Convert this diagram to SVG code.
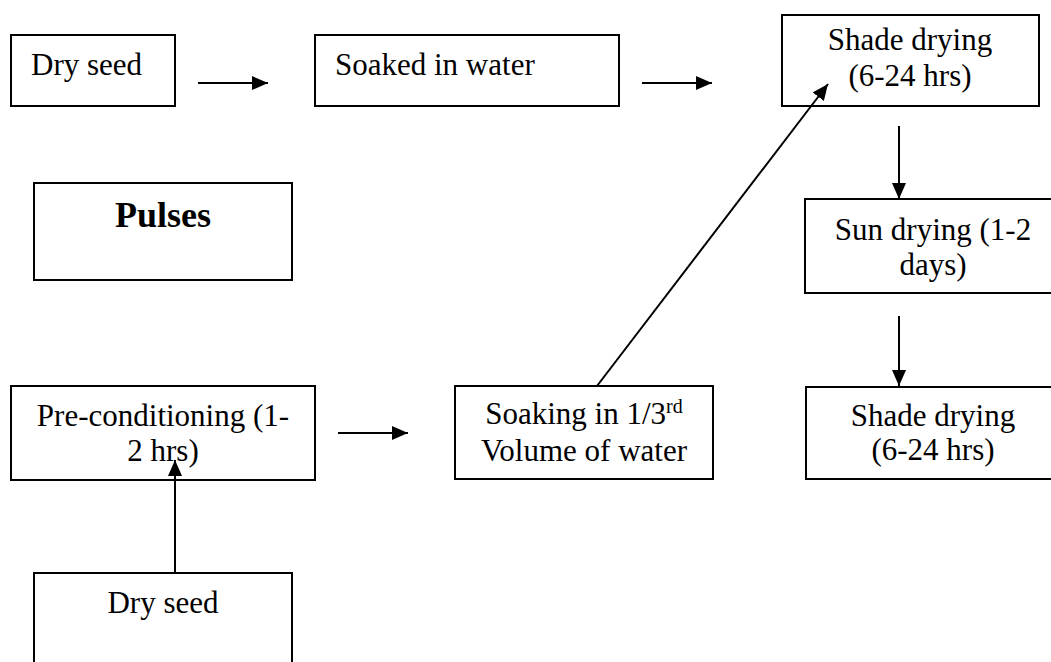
<svg xmlns="http://www.w3.org/2000/svg" width="1051" height="662" viewBox="0 0 1051 662">
  <style>
    .box { fill: #ffffff; stroke: #000000; stroke-width: 2; }
    .lbl { font-family: "Liberation Serif", "Times New Roman", serif; font-size: 31px; fill: #000000; }
    .mid { text-anchor: middle; }
    .title { font-weight: bold; font-size: 36px; }
    .sup { font-size: 20px; }
    .edge { stroke: #000000; stroke-width: 2; fill: none; marker-end: url(#head); }
  </style>
  <defs>
    <marker id="head" markerUnits="userSpaceOnUse" markerWidth="16" markerHeight="14" refX="16" refY="7" orient="auto">
      <path d="M0,0 L16,7 L0,14 z" fill="#000000"/>
    </marker>
  </defs>
  <rect width="1051" height="662" fill="#ffffff"/>

  <!-- top row -->
  <g id="dry-seed-top">
    <rect class="box" x="11" y="35" width="164" height="71"/>
    <text class="lbl" x="31" y="75">Dry seed</text>
  </g>
  <g id="soaked-in-water">
    <rect class="box" x="315" y="35" width="304" height="71"/>
    <text class="lbl" x="335" y="75">Soaked in water</text>
  </g>
  <g id="shade-drying-top">
    <rect class="box" x="782" y="15" width="257" height="91"/>
    <text class="lbl mid" x="910" y="50">Shade drying</text>
    <text class="lbl mid" x="910" y="86">(6-24 hrs)</text>
  </g>

  <!-- heading -->
  <g id="pulses">
    <rect class="box" x="34" y="183" width="258" height="97"/>
    <text class="lbl mid title" x="163" y="227">Pulses</text>
  </g>

  <g id="sun-drying">
    <rect class="box" x="805" y="199" width="256" height="94"/>
    <text class="lbl mid" x="933" y="240">Sun drying (1-2</text>
    <text class="lbl mid" x="933" y="275">days)</text>
  </g>

  <!-- lower row -->
  <g id="pre-conditioning">
    <rect class="box" x="11" y="386" width="304" height="94"/>
    <text class="lbl mid" x="163" y="426">Pre-conditioning (1-</text>
    <text class="lbl mid" x="163" y="461">2 hrs)</text>
  </g>
  <g id="soaking-third">
    <rect class="box" x="455" y="386" width="258" height="93"/>
    <text class="lbl mid" x="584" y="424">Soaking in 1/3<tspan class="sup" dy="-11">rd</tspan></text>
    <text class="lbl mid" x="584" y="461">Volume of water</text>
  </g>
  <g id="shade-drying-bottom">
    <rect class="box" x="806" y="387" width="254" height="92"/>
    <text class="lbl mid" x="933" y="426">Shade drying</text>
    <text class="lbl mid" x="933" y="460">(6-24 hrs)</text>
  </g>

  <g id="dry-seed-bottom">
    <rect class="box" x="34" y="573" width="258" height="100"/>
    <text class="lbl mid" x="163" y="613">Dry seed</text>
  </g>

  <!-- connectors -->
  <g id="connectors">
    <line class="edge" x1="198" y1="83" x2="268" y2="83"/>
    <line class="edge" x1="642" y1="83" x2="712" y2="83"/>
    <line class="edge" x1="597" y1="386" x2="828" y2="84"/>
    <line class="edge" x1="899" y1="126" x2="899" y2="199"/>
    <line class="edge" x1="899" y1="316" x2="899" y2="386"/>
    <line class="edge" x1="338" y1="433" x2="408" y2="433"/>
    <line class="edge" x1="175" y1="573" x2="175" y2="460"/>
  </g>
</svg>
